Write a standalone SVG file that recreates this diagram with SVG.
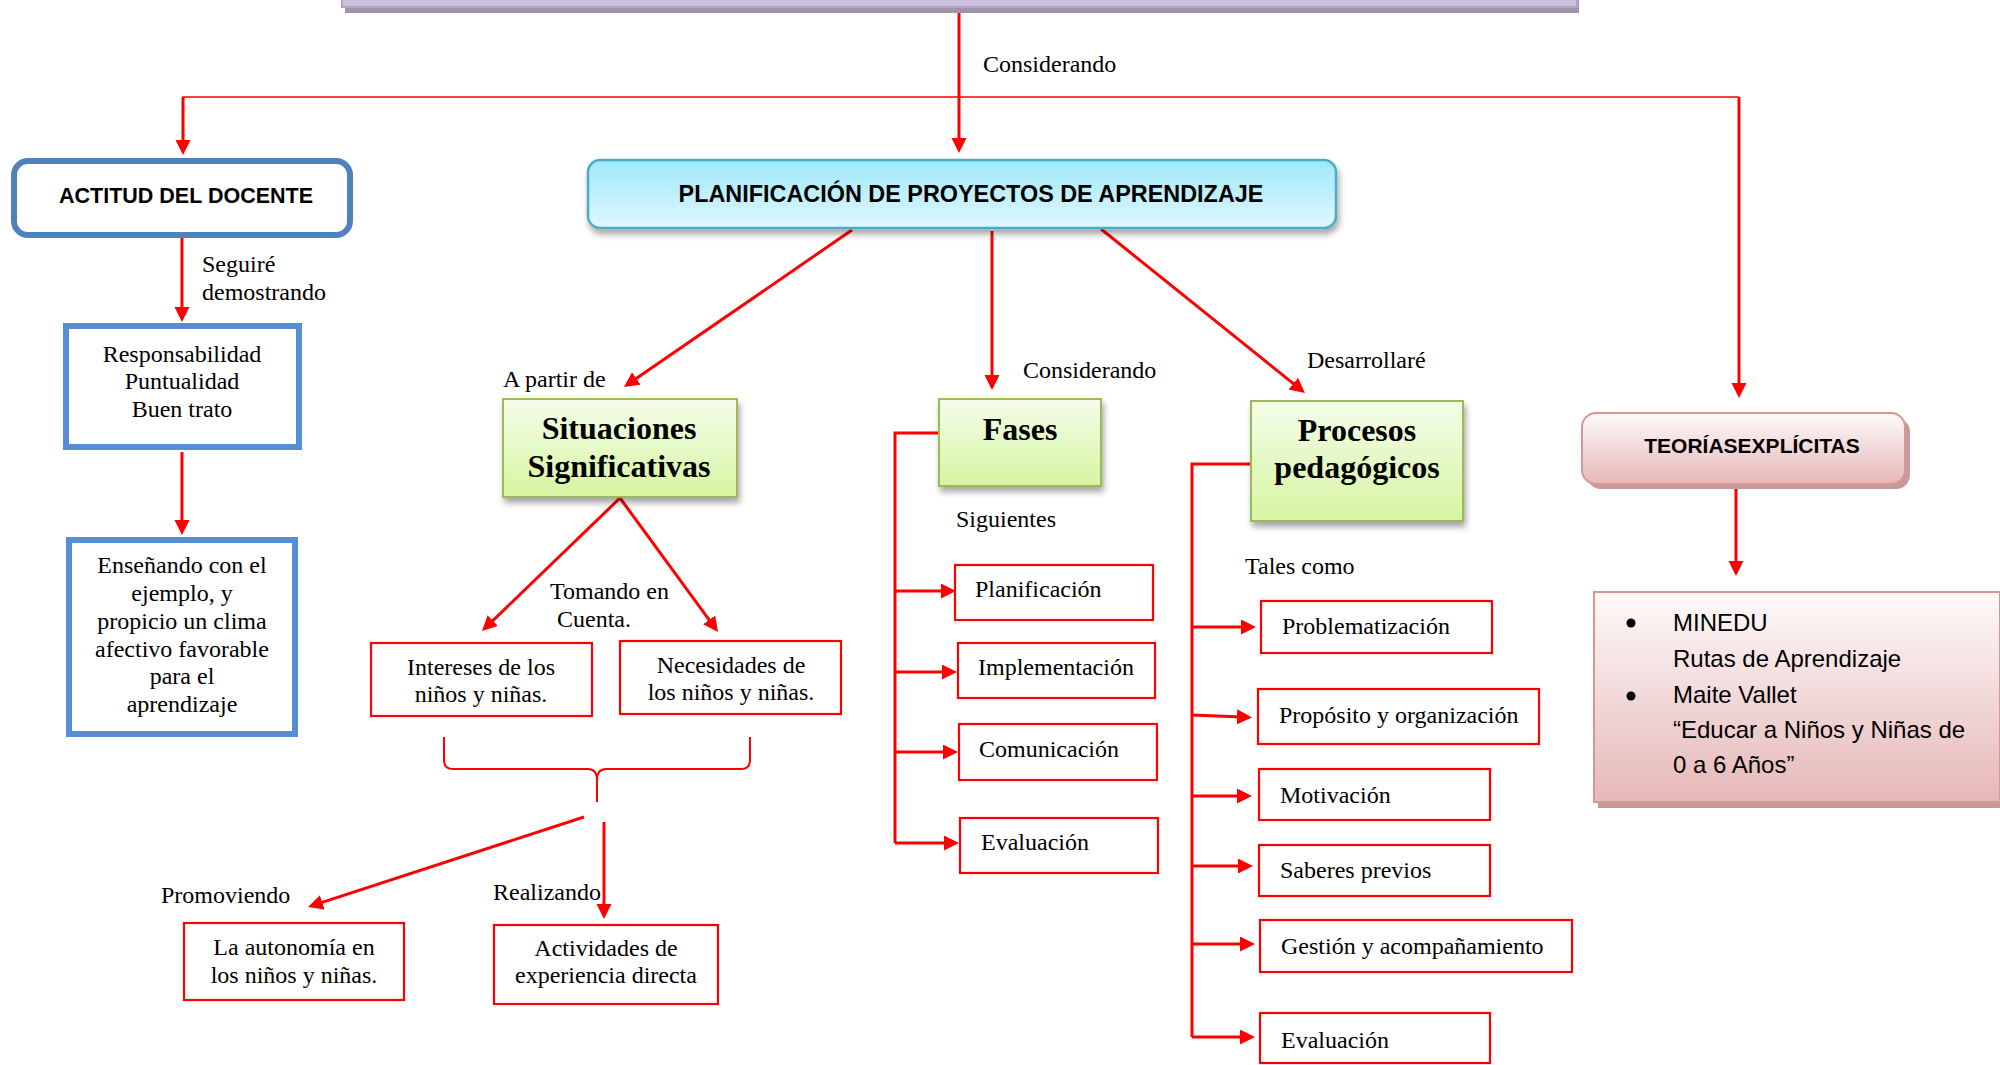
<svg xmlns="http://www.w3.org/2000/svg" width="2000" height="1065" viewBox="0 0 2000 1065">
<style>
.t{font-family:"Liberation Serif","Times New Roman",serif;font-size:24px;fill:#000}
.tc{text-anchor:middle}
.tb{font-family:"Liberation Serif","Times New Roman",serif;font-size:32px;font-weight:bold;fill:#000;text-anchor:middle}
.sb{font-family:"Liberation Sans",Arial,sans-serif;font-weight:bold;fill:#000;text-anchor:middle}
.ss{font-family:"Liberation Sans",Arial,sans-serif;font-size:24px;fill:#000}
.rb{fill:#fff;stroke:#ff0000;stroke-width:2.2}
.bb{fill:#fff;stroke:#558ed5;stroke-width:6}
.c{fill:none;stroke:#ff0000;stroke-width:3}
.ca{fill:none;stroke:#ff0000;stroke-width:3;marker-end:url(#ah)}
.gb{fill:url(#gGreen);stroke:#9bbb59;stroke-width:2;filter:url(#sh)}
</style>
<defs>
<marker id="ah" markerWidth="16" markerHeight="16" refX="5" refY="7.5" orient="auto" markerUnits="userSpaceOnUse"><path d="M0,0 L15,7.5 L0,15 z" fill="#ff0000"/></marker>
<linearGradient id="gPlan" x1="0" y1="0" x2="0" y2="1"><stop offset="0" stop-color="#9fe8fa"/><stop offset="1" stop-color="#e0f7fd"/></linearGradient>
<linearGradient id="gGreen" x1="0" y1="0" x2="0" y2="1"><stop offset="0" stop-color="#f4fdea"/><stop offset="1" stop-color="#d6f5a0"/></linearGradient>
<linearGradient id="gPink" x1="0" y1="0" x2="0" y2="1"><stop offset="0" stop-color="#fefafa"/><stop offset="1" stop-color="#e5b8b7"/></linearGradient>
<filter id="sh" x="-10%" y="-20%" width="120%" height="150%"><feDropShadow dx="2" dy="5" stdDeviation="3" flood-color="#000" flood-opacity="0.35"/></filter>
</defs>
<rect width="2000" height="1065" fill="#fff"/>

<g id="top-bar">
<rect x="345" y="-20" width="1234" height="33" fill="#a095a8"/>
<rect x="342" y="-20" width="1235" height="27" fill="#ccc1dc" stroke="#b3a2c7" stroke-width="2"/>
</g>

<g id="connectors">
<path class="ca" d="M959,13 V143"/>
<path fill="none" stroke="#ff0000" stroke-width="1.6" d="M183,125 V97 H1739"/>
<path class="ca" d="M183,97 V145"/>
<path class="ca" stroke-width="2.5" d="M1739,97 V388"/>
<path class="ca" d="M182,238 V312"/>
<path class="ca" d="M182,452 V525"/>
<path class="ca" d="M852,230 L632.2,381.3"/>
<path class="ca" d="M992,231 V380"/>
<path class="ca" d="M1101,229 L1297.2,386.7"/>
<path class="ca" d="M620,498 L489.2,624.1"/>
<path class="ca" d="M620,498 L712.1,623.9"/>
<path fill="none" stroke="#ff0000" stroke-width="2" d="M444,737 V760 Q444,769 453,769 H588 Q597,769 597,780 V802 M750,737 V760 Q750,769 741,769 H606 Q597,769 597,780"/>
<path class="ca" d="M584,817 L317.5,903.9"/>
<path class="ca" d="M604,822 V909"/>
<path class="c" d="M939,433 H895 V843"/>
<path class="ca" d="M895,591 H946"/>
<path class="ca" d="M895,672 H947"/>
<path class="ca" d="M895,752 H948"/>
<path class="ca" d="M895,843 H949"/>
<path class="c" d="M1251,464 H1192 V1037"/>
<path class="ca" d="M1192,627 H1246"/>
<path class="ca" d="M1192,715 L1242,717"/>
<path class="ca" d="M1192,796 H1242"/>
<path class="ca" d="M1192,866 H1243"/>
<path class="ca" d="M1192,944 H1245"/>
<path class="ca" d="M1192,1037 H1245"/>
<path class="ca" d="M1736,488 V566"/>
</g>

<g id="label-considerando-top"><text class="t" x="983" y="72" font-size="26.5">Considerando</text></g>
<g id="label-seguire"><text class="t" x="202" y="272">Seguiré</text><text class="t" x="202" y="300">demostrando</text></g>
<g id="label-apartir"><text class="t" x="503" y="387">A partir de</text></g>
<g id="label-considerando"><text class="t" x="1023" y="378">Considerando</text></g>
<g id="label-desarrollare"><text class="t" x="1307" y="368">Desarrollaré</text></g>
<g id="label-tomando"><text class="t" x="550" y="599">Tomando en</text><text class="t" x="557" y="627">Cuenta.</text></g>
<g id="label-promoviendo"><text class="t" x="161" y="903">Promoviendo</text></g>
<g id="label-realizando"><text class="t" x="493" y="900">Realizando</text></g>
<g id="label-siguientes"><text class="t" x="956" y="527">Siguientes</text></g>
<g id="label-tales"><text class="t" x="1245" y="574">Tales como</text></g>

<g id="actitud">
<rect x="14" y="161" width="336" height="74" rx="14" fill="#fff" stroke="#4f81bd" stroke-width="6"/>
<text class="sb" x="186" y="203" font-size="21.5">ACTITUD DEL DOCENTE</text>
</g>
<g id="responsabilidad">
<rect class="bb" x="66" y="326" width="233" height="121"/>
<text class="t tc" x="182" y="362">Responsabilidad</text>
<text class="t tc" x="182" y="389">Puntualidad</text>
<text class="t tc" x="182" y="417">Buen trato</text>
</g>
<g id="ensenando">
<rect class="bb" x="69" y="540" width="226" height="194"/>
<text class="t tc" x="182" y="573">Enseñando con el</text>
<text class="t tc" x="182" y="601">ejemplo, y</text>
<text class="t tc" x="182" y="629">propicio un clima</text>
<text class="t tc" x="182" y="657">afectivo favorable</text>
<text class="t tc" x="182" y="684">para el</text>
<text class="t tc" x="182" y="712">aprendizaje</text>
</g>

<g id="planificacion">
<rect x="588" y="160" width="748" height="68" rx="12" fill="url(#gPlan)" stroke="#4bacc6" stroke-width="2.5" filter="url(#sh)"/>
<text class="sb" x="971" y="202" font-size="23.4">PLANIFICACIÓN DE PROYECTOS DE APRENDIZAJE</text>
</g>

<g id="situaciones">
<rect class="gb" x="503" y="399" width="234" height="98"/>
<text class="tb" x="619" y="439">Situaciones</text>
<text class="tb" x="619" y="477">Significativas</text>
</g>
<g id="intereses">
<rect class="rb" x="371" y="643" width="221" height="73"/>
<text class="t tc" x="481" y="675">Intereses de los</text>
<text class="t tc" x="481" y="702">niños y niñas.</text>
</g>
<g id="necesidades">
<rect class="rb" x="620" y="641" width="221" height="73"/>
<text class="t tc" x="731" y="673">Necesidades de</text>
<text class="t tc" x="731" y="700">los niños y niñas.</text>
</g>
<g id="autonomia">
<rect class="rb" x="184" y="923" width="220" height="77"/>
<text class="t tc" x="294" y="955">La autonomía en</text>
<text class="t tc" x="294" y="983">los niños y niñas.</text>
</g>
<g id="actividades">
<rect class="rb" x="494" y="925" width="224" height="79"/>
<text class="t tc" x="606" y="956">Actividades de</text>
<text class="t tc" x="606" y="983">experiencia directa</text>
</g>

<g id="fases">
<rect class="gb" x="939" y="399" width="162" height="87"/>
<text class="tb" x="1020" y="440">Fases</text>
</g>
<g id="f-planificacion"><rect class="rb" x="955" y="565" width="198" height="55"/><text class="t" x="975" y="597">Planificación</text></g>
<g id="f-implementacion"><rect class="rb" x="958" y="643" width="197" height="55"/><text class="t" x="978" y="675">Implementación</text></g>
<g id="f-comunicacion"><rect class="rb" x="959" y="724" width="198" height="56"/><text class="t" x="979" y="757">Comunicación</text></g>
<g id="f-evaluacion"><rect class="rb" x="960" y="818" width="198" height="55"/><text class="t" x="981" y="850">Evaluación</text></g>

<g id="procesos">
<rect class="gb" x="1251" y="401" width="212" height="120"/>
<text class="tb" x="1357" y="441">Procesos</text>
<text class="tb" x="1357" y="478">pedagógicos</text>
</g>
<g id="p-problematizacion"><rect class="rb" x="1261" y="601" width="231" height="52"/><text class="t" x="1282" y="634">Problematización</text></g>
<g id="p-proposito"><rect class="rb" x="1258" y="689" width="281" height="55"/><text class="t" x="1279" y="723">Propósito y organización</text></g>
<g id="p-motivacion"><rect class="rb" x="1259" y="769" width="231" height="51"/><text class="t" x="1280" y="803">Motivación</text></g>
<g id="p-saberes"><rect class="rb" x="1259" y="845" width="231" height="51"/><text class="t" x="1280" y="878">Saberes previos</text></g>
<g id="p-gestion"><rect class="rb" x="1260" y="920" width="312" height="52"/><text class="t" x="1281" y="954">Gestión y acompañamiento</text></g>
<g id="p-evaluacion"><rect class="rb" x="1260" y="1013" width="230" height="50"/><text class="t" x="1281" y="1048">Evaluación</text></g>

<g id="teorias">
<rect x="1587" y="418" width="323" height="71" rx="14" fill="#c69a99"/>
<rect x="1582" y="413" width="323" height="71" rx="14" fill="url(#gPink)" stroke="#d99694" stroke-width="2"/>
<text class="sb" x="1752" y="453" font-size="21">TEORÍASEXPLÍCITAS</text>
</g>
<g id="minedu">
<rect x="1598" y="597" width="406" height="211" fill="#c69a99"/>
<rect x="1594" y="592" width="406" height="210" fill="url(#gPink)" stroke="#d99694" stroke-width="2"/>
<circle cx="1631" cy="623" r="4.5" fill="#000"/>
<circle cx="1631" cy="696" r="4.5" fill="#000"/>
<text class="ss" x="1673" y="631">MINEDU</text>
<text class="ss" x="1673" y="667">Rutas de Aprendizaje</text>
<text class="ss" x="1673" y="703">Maite Vallet</text>
<text class="ss" x="1673" y="738">“Educar a Niños y Niñas de</text>
<text class="ss" x="1673" y="773">0 a 6 Años”</text>
</g>
</svg>
